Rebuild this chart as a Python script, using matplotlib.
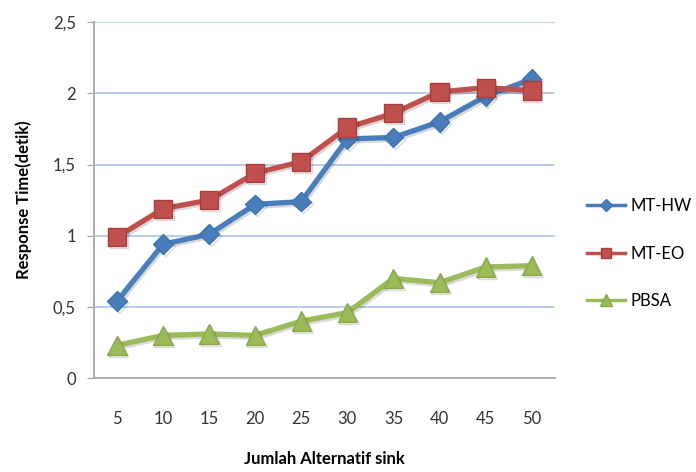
import matplotlib
matplotlib.use("Agg")
import matplotlib.pyplot as plt
import matplotlib.patheffects as pe
from matplotlib.lines import Line2D

plt.rcParams['font.family'] = ['Lato', 'DejaVu Sans']

categories = ["5", "10", "15", "20", "25", "30", "35", "40", "45", "50"]
mt_hw = [0.54, 0.94, 1.01, 1.22, 1.24, 1.68, 1.69, 1.80, 1.98, 2.10]
mt_eo = [0.99, 1.19, 1.25, 1.44, 1.52, 1.76, 1.86, 2.01, 2.04, 2.02]
pbsa = [0.23, 0.30, 0.31, 0.30, 0.40, 0.46, 0.70, 0.67, 0.78, 0.79]
y_ticks = [0, 0.5, 1, 1.5, 2, 2.5]
y_tick_labels = ["0", "0,5", "1", "1,5", "2", "2,5"]

fig = plt.figure(figsize=(6.96, 4.72), dpi=100)
ax = fig.add_axes([0.135, 0.199, 0.662, 0.754])

x = list(range(len(categories)))
shadow = [pe.SimpleLineShadow(offset=(1.2, -1.5), shadow_color='black', alpha=0.15), pe.Normal()]

series = [
    ('MT-HW', mt_hw, '#4a7ebb', '#3f72b0', 'D', 10),
    ('MT-EO', mt_eo, '#c0504d', '#a83e3b', 's', 13),
    ('PBSA', pbsa, '#9bbb59', '#87a84a', '^', 14),
]
handles = []
for name, vals, col, ecol, mk, ms in series:
    ax.plot(x, vals, color=col, lw=3.8, marker=mk, ms=ms, markeredgecolor=ecol,
            path_effects=shadow, zorder=3)
    handles.append(Line2D([], [], color=col, lw=2.5, marker=mk, ms=ms * 0.6,
                          markeredgecolor=ecol, label=name))

ax.set_xlim(-0.5, len(categories) - 0.5)
ax.set_ylim(0, 2.5)
ax.set_xticks(x)
ax.set_xticklabels(categories, fontsize=12, color='#333333')
ax.set_yticks(y_ticks)
ax.set_yticklabels(y_tick_labels, fontsize=12, color='#333333')
ax.tick_params(axis='x', length=0, pad=24)
ax.tick_params(axis='y', length=5, color='#a0a0a0', pad=8)

for yv in y_ticks[1:]:
    ax.axhline(yv, color='#b4c9ea', lw=1.3, zorder=1)

for side in ['top', 'right']:
    ax.spines[side].set_visible(False)
for side in ['left', 'bottom']:
    ax.spines[side].set_color('#a6a6a6')
    ax.spines[side].set_linewidth(1.3)

ax.set_ylabel('Response Time(detik)', fontsize=12, fontweight='bold', labelpad=15)
ax.set_xlabel('Jumlah Alternatif sink', fontsize=12, fontweight='bold', labelpad=17)

ax.legend(handles=handles, loc='center left', bbox_to_anchor=(1.037, 0.35), frameon=False,
          fontsize=12, handlelength=2.3, labelspacing=1.9, handletextpad=0.3)

fig.savefig('out.png', dpi=100)
